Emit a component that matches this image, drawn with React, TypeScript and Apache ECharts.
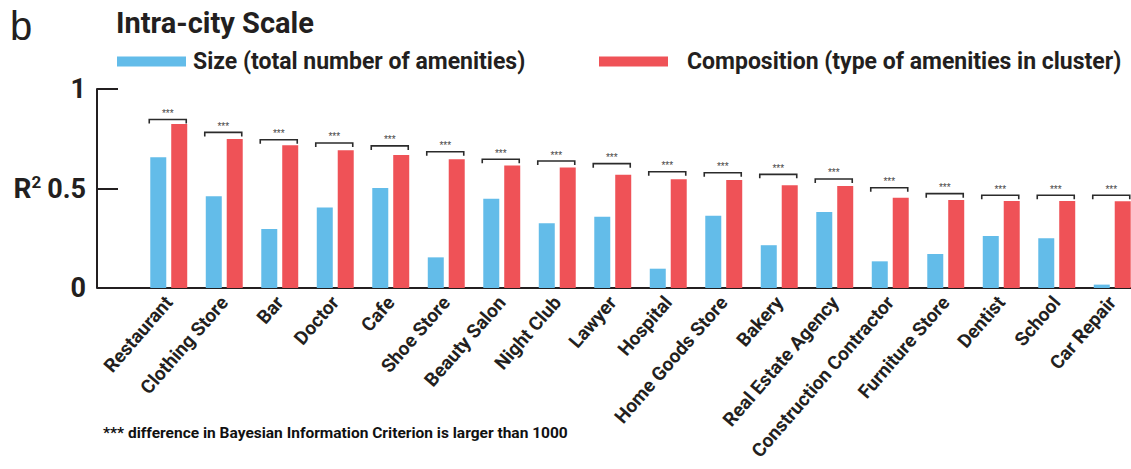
import React, { useEffect, useRef } from "react";
import * as echarts from "echarts";

const categories = [
  "Restaurant", "Clothing Store", "Bar", "Doctor", "Cafe", "Shoe Store",
  "Beauty Salon", "Night Club", "Lawyer", "Hospital", "Home Goods Store",
  "Bakery", "Real Estate Agency", "Construction Contractor", "Furniture Store",
  "Dentist", "School", "Car Repair",
];
const sizeR2 = [0.657, 0.461, 0.296, 0.405, 0.503, 0.154, 0.449, 0.325, 0.358, 0.097, 0.363, 0.215, 0.382, 0.134, 0.171, 0.261, 0.25, 0.017];
const compositionR2 = [0.824, 0.749, 0.717, 0.692, 0.668, 0.647, 0.615, 0.605, 0.569, 0.546, 0.543, 0.516, 0.513, 0.454, 0.442, 0.437, 0.437, 0.436];
const bracketLevel = [0.847, 0.782, 0.745, 0.729, 0.714, 0.685, 0.647, 0.638, 0.625, 0.584, 0.579, 0.571, 0.548, 0.504, 0.474, 0.466, 0.466, 0.466];
const yTicks = [0, 0.5, 1];
const sizeName = "Size (total number of amenities)";
const compName = "Composition (type of amenities in cluster)";
const footnote = "*** difference in Bayesian Information Criterion is larger than 1000";

const FONT = "Roboto, 'Liberation Sans', sans-serif";
const INK = "#231f20";
const BLUE = "#63bce9";
const RED = "#ef5257";
const GRID_LEFT = 141;
const Y_OFFSET = 44;
const GRID_TOP = 89;
const GRID_BOTTOM = 181;

export default function App() {
  const ref = useRef<HTMLDivElement>(null);
  useEffect(() => {
    if (!ref.current) return;
    const chart = echarts.init(ref.current, null, { renderer: "svg" });
    const H = 469;
    const option: any = {
      animation: false,
      backgroundColor: "#ffffff",
      textStyle: { fontFamily: FONT },
      title: {
        text: "Intra-city Scale",
        left: 116,
        top: 8,
        padding: 0,
        textStyle: { fontSize: 29, fontWeight: "bold", color: INK, fontFamily: FONT },
      },
      legend: [
        {
          data: [sizeName],
          left: 117,
          top: 50,
          padding: 0,
          icon: "rect",
          itemWidth: 69,
          itemHeight: 10,
          selectedMode: false,
          textStyle: { fontSize: 23, fontWeight: "bold", color: INK, fontFamily: FONT, padding: [0, 0, 0, 2] },
        },
        {
          data: [compName],
          left: 599,
          top: 50,
          padding: 0,
          icon: "rect",
          itemWidth: 69,
          itemHeight: 10,
          selectedMode: false,
          textStyle: { fontSize: 23, fontWeight: "bold", color: INK, fontFamily: FONT, padding: [0, 0, 0, 14] },
        },
      ],
      grid: {
        left: GRID_LEFT,
        right: -9,
        top: GRID_TOP,
        bottom: GRID_BOTTOM,
        containLabel: false,
        outerBoundsMode: "none",
      },
      xAxis: {
        type: "category",
        data: categories,
        axisLine: { show: true, lineStyle: { color: INK, width: 2 } },
        axisTick: { show: false },
        axisLabel: {
          rotate: 49,
          interval: 0,
          margin: 11,
          fontSize: 19,
          fontWeight: "bold",
          color: INK,
          fontFamily: FONT,
        },
      },
      yAxis: {
        type: "value",
        min: 0,
        max: 1,
        interval: 0.5,
        offset: Y_OFFSET,
        splitLine: { show: false },
        axisLine: { show: true, lineStyle: { color: INK, width: 2 } },
        axisTick: { show: true, inside: true, length: 21, lineStyle: { color: INK, width: 2 } },
        axisLabel: {
          margin: 11,
          fontSize: 27,
          fontWeight: "bold",
          color: INK,
          fontFamily: FONT,
          formatter: (v: number) => (yTicks.includes(v) ? String(v) : ""),
        },
        name: "{r|R}{s|2}",
        nameLocation: "middle",
        nameRotate: 0,
        nameGap: 45,
        nameTextStyle: {
          rich: {
            r: { fontSize: 28, fontWeight: "bold", color: INK, fontFamily: FONT, lineHeight: 30 },
            s: { fontSize: 17, fontWeight: "bold", color: INK, fontFamily: FONT, verticalAlign: "top", lineHeight: 18 },
          },
        },
      },
      series: [
        {
          name: sizeName,
          type: "bar",
          data: sizeR2,
          barWidth: 16,
          barGap: "31%",
          itemStyle: { color: BLUE },
        },
        {
          name: compName,
          type: "bar",
          data: compositionR2,
          barWidth: 16,
          itemStyle: { color: RED },
        },
        {
          name: "significance",
          type: "custom",
          data: categories.map((_, i) => [i, bracketLevel[i]]),
          encode: { x: 0, y: 1 },
          z: 5,
          renderItem: (params: any, api: any) => {
            const p = api.coord([api.value(0), api.value(1)]);
            const half = 18.5;
            const cx = p[0] - 1;
            return {
              type: "group",
              children: [
                {
                  type: "polyline",
                  shape: {
                    points: [
                      [cx - half, p[1] + 4],
                      [cx - half, p[1]],
                      [cx + half, p[1]],
                      [cx + half, p[1] + 4],
                    ],
                  },
                  style: { stroke: "#2b2b2b", fill: null, lineWidth: 1.6 },
                },
                {
                  type: "text",
                  x: cx,
                  y: p[1] - 1,
                  style: {
                    text: "***",
                    fill: "#444",
                    fontSize: 10,
                    fontFamily: "'Liberation Sans', sans-serif",
                    align: "center",
                    verticalAlign: "bottom",
                  },
                },
              ],
            };
          },
        },
      ],
      graphic: [
        {
          type: "text",
          left: 10,
          top: 6,
          style: { text: "b", fontSize: 40, fontFamily: "'Liberation Sans', sans-serif", fill: INK },
        },
        {
          type: "line",
          shape: { x1: GRID_LEFT - Y_OFFSET, y1: H - GRID_BOTTOM, x2: GRID_LEFT, y2: H - GRID_BOTTOM },
          style: { stroke: INK, lineWidth: 2 },
        },
        {
          type: "text",
          left: 103,
          top: 425,
          style: { text: footnote, fontSize: 15.5, fontWeight: "bold", fontFamily: FONT, fill: "#111" },
        },
      ],
    };
    chart.setOption(option);
    return () => chart.dispose();
  }, []);
  return (
    <div
      ref={ref}
      style={{ position: "fixed", left: 0, top: 0, width: 1131, height: 469, background: "#fff" }}
    />
  );
}
